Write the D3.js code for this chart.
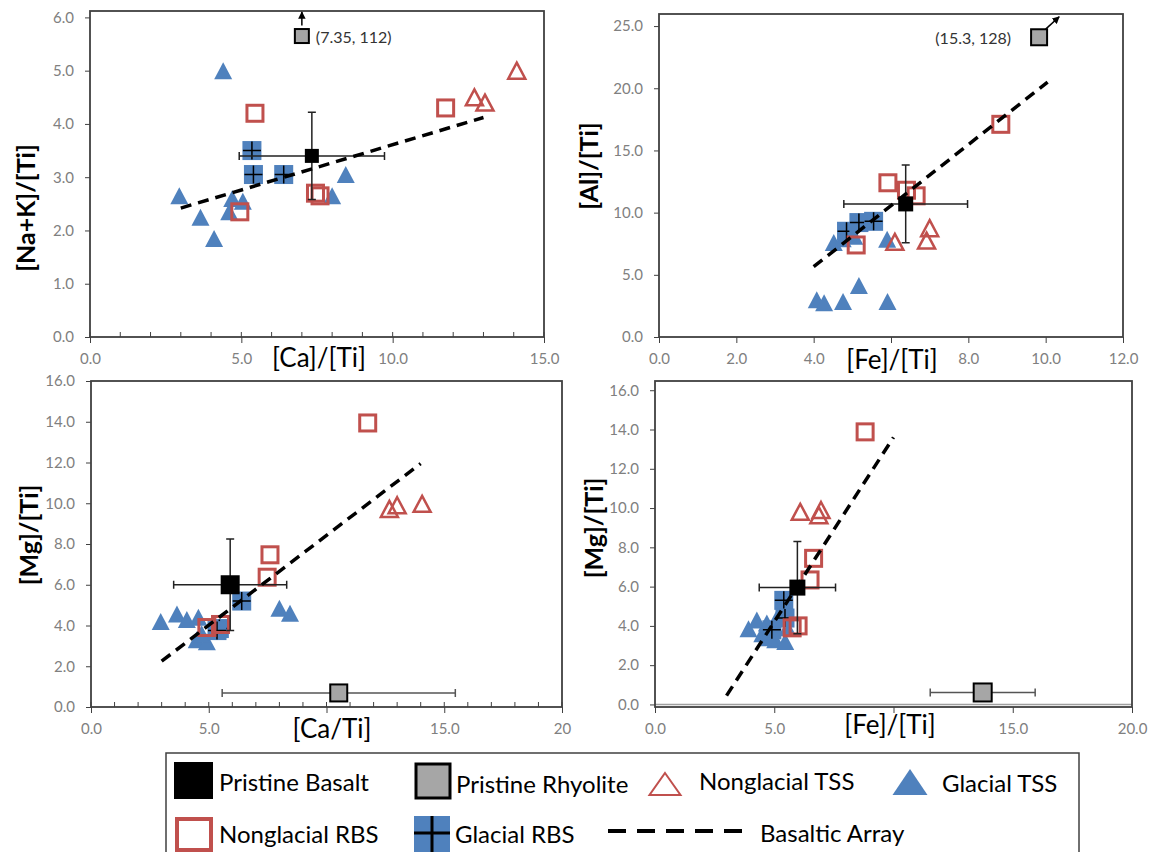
<!DOCTYPE html>
<html>
<head>
<meta charset="utf-8">
<script src="https://cdn.jsdelivr.net/npm/d3@7"></script>
<style>
  body { margin: 0; background: #fff; }
  svg { display: block; }
  text { font-family: Lato, "Open Sans", "DejaVu Sans", sans-serif; }
</style>
</head>
<body>
<svg id="chart" width="1150" height="852"></svg>
<script>
// --- data: panel A, [Ca]/[Ti] vs [Na+K]/[Ti] ---
const aXTicks = [0, 5, 10, 15];
const aXLabels = ["0.0", "5.0", "10.0", "15.0"];
const aYTicks = [0, 1, 2, 3, 4, 5, 6];
const aYLabels = ["0.0", "1.0", "2.0", "3.0", "4.0", "5.0", "6.0"];
const aGlacialTSS = [[4.4, 5.0], [2.95, 2.65], [3.65, 2.25], [4.1, 1.85], [4.6, 2.35], [4.7, 2.6], [5.05, 2.55], [8.0, 2.65], [8.45, 3.05]];
const aGlacialRBS = [[5.35, 3.5], [5.4, 3.05], [6.4, 3.05]];
const aNonglacialRBS = [[5.45, 4.2], [11.75, 4.3], [7.45, 2.7], [7.6, 2.65], [4.95, 2.35]];
const aNonglacialTSS = [[14.1, 5.0], [12.7, 4.5], [13.05, 4.4]];
const aBasalt = [7.33, 3.4];
const aBasaltErr = [2.4, 0.82];
const aRhyolite = [7.0, 5.65];
const aRhyoliteErr = null;
const aRhyoliteNote = "(7.35, 112)";
const aArrow = [[7.0, 5.85], [7.0, 6.1]];
const aArray = [[3.0, 2.42], [13.0, 4.12]];

// --- data: panel B, [Fe]/[Ti] vs [Al]/[Ti] ---
const bXTicks = [0, 2, 4, 6, 8, 10, 12];
const bXLabels = ["0.0", "2.0", "4.0", "", "8.0", "10.0", "12.0"]; // 6.0 sits under the axis title
const bYTicks = [0, 5, 10, 15, 20, 25];
const bYLabels = ["0.0", "5.0", "10.0", "15.0", "20.0", "25.0"];
const bGlacialTSS = [[4.08, 3.0], [4.27, 2.75], [4.76, 2.85], [5.17, 4.15], [5.91, 2.85], [4.52, 7.6], [4.75, 7.9], [5.05, 8.1], [5.9, 7.85]];
const bGlacialRBS = [[4.85, 8.5], [5.17, 9.2], [5.55, 9.3]];
const bNonglacialRBS = [[8.84, 17.1], [5.92, 12.4], [6.4, 11.8], [6.65, 11.35], [5.1, 7.4]];
const bNonglacialTSS = [[6.1, 7.65], [6.92, 7.75], [7.0, 8.75]];
const bBasalt = [6.38, 10.7];
const bBasaltErr = [1.6, 3.13];
const bRhyolite = [9.83, 24.1];
const bRhyoliteErr = null;
const bRhyoliteNote = "(15.3, 128)";
const bArrow = [[10.0, 24.75], [10.35, 25.75]];
const bArray = [[4.0, 5.65], [10.05, 20.5]];

// --- data: panel C, [Ca/Ti] vs [Mg]/[Ti] ---
const cXTicks = [0, 5, 10, 15, 20];
const cXLabels = ["0.0", "5.0", "", "15.0", "20"]; // 10.0 sits under the axis title
const cYTicks = [0, 2, 4, 6, 8, 10, 12, 14, 16];
const cYLabels = ["0.0", "2.0", "4.0", "6.0", "8.0", "10.0", "12.0", "14.0", "16.0"];
const cGlacialTSS = [[2.96, 4.2], [3.65, 4.57], [4.07, 4.3], [4.56, 4.4], [4.49, 3.3], [4.92, 3.2], [4.7, 3.6], [8.0, 4.85], [8.45, 4.6]];
const cGlacialRBS = [[6.4, 5.2], [5.45, 3.85], [5.35, 3.75]];
const cNonglacialRBS = [[11.75, 13.94], [7.6, 7.47], [7.48, 6.37], [4.92, 3.9], [5.5, 4.05]];
const cNonglacialTSS = [[12.67, 9.72], [13.0, 9.9], [14.06, 9.97]];
const cBasalt = [5.91, 6.0];
const cBasaltErr = [2.4, 2.24];
const cRhyolite = [10.52, 0.69];
const cRhyoliteErr = [4.95, 0];
const cRhyoliteNote = null;
const cArrow = null;
const cArray = [[3.0, 2.25], [14.0, 11.95]];

// --- data: panel D, [Fe]/[Ti] vs [Mg]/[Ti] ---
const dXTicks = [0, 5, 10, 15, 20];
const dXLabels = ["0.0", "5.0", "", "15.0", "20.0"]; // 10.0 sits under the axis title
const dYTicks = [0, 2, 4, 6, 8, 10, 12, 14, 16];
const dYLabels = ["0.0", "2.0", "4.0", "6.0", "8.0", "10.0", "12.0", "14.0", "16.0"];
const dGlacialTSS = [[3.92, 3.85], [4.27, 4.3], [4.69, 4.15], [5.04, 3.3], [5.46, 3.2], [4.5, 3.6], [5.2, 4.6], [5.55, 3.9], [4.8, 3.4]];
const dGlacialRBS = [[4.9, 3.8], [5.4, 5.3], [5.45, 4.4]];
const dNonglacialRBS = [[8.81, 13.88], [6.65, 7.44], [6.5, 6.34], [6.0, 4.0], [5.75, 3.9]];
const dNonglacialTSS = [[6.09, 9.81], [6.96, 9.9], [6.87, 9.64]];
const dBasalt = [5.97, 5.95];
const dBasaltErr = [1.6, 2.35];
const dRhyolite = [13.74, 0.61];
const dRhyoliteErr = [2.2, 0];
const dRhyoliteNote = null;
const dArrow = null;
const dArray = [[3.0, 0.45], [10.0, 13.6]];

// legend entries
const legendRow1 = ["Pristine Basalt", "Pristine Rhyolite", "Nonglacial TSS", "Glacial TSS"];
const legendRow2 = ["Nonglacial RBS", "Glacial RBS", "Basaltic Array"];

const BLUE = "#4F81BD";
const RED = "#C0504D";
const GREY = "#A6A6A6";
const FRAME = "#404040";
const TICK_TEXT = "#808080";

const panels = [
  { left: 90, right: 544, top: 11, bottom: 337, xDomain: [0, 15], yDomain: [0, 6.12],
    xTicks: aXTicks, xLabels: aXLabels, yTicks: aYTicks, yLabels: aYLabels, minor: true,
    xTitle: "[Ca]/[Ti]", yTitle: "[Na+K]/[Ti]", xTitleAt: [319, 357], yTitleAt: [25, 208],
    glacialTSS: aGlacialTSS, glacialRBS: aGlacialRBS, nonglacialRBS: aNonglacialRBS, nonglacialTSS: aNonglacialTSS,
    basalt: aBasalt, basaltErr: aBasaltErr, basaltSize: 14,
    rhyolite: aRhyolite, rhyoliteErr: aRhyoliteErr, rhyoliteSize: 14, note: aRhyoliteNote, noteAnchor: "start", noteDx: 14,
    arrow: aArrow, array: aArray },
  { left: 659, right: 1123, top: 14, bottom: 337, xDomain: [0, 12], yDomain: [0, 25.97],
    xTicks: bXTicks, xLabels: bXLabels, yTicks: bYTicks, yLabels: bYLabels, minor: false,
    xTitle: "[Fe]/[Ti]", yTitle: "[Al]/[Ti]", xTitleAt: [892, 359], yTitleAt: [588, 166],
    glacialTSS: bGlacialTSS, glacialRBS: bGlacialRBS, nonglacialRBS: bNonglacialRBS, nonglacialTSS: bNonglacialTSS,
    basalt: bBasalt, basaltErr: bBasaltErr, basaltSize: 15,
    rhyolite: bRhyolite, rhyoliteErr: bRhyoliteErr, rhyoliteSize: 16, note: bRhyoliteNote, noteAnchor: "end", noteDx: -28,
    arrow: bArrow, array: bArray },
  { left: 91, right: 562, top: 381, bottom: 707, xDomain: [0, 20], yDomain: [0, 16],
    xTicks: cXTicks, xLabels: cXLabels, yTicks: cYTicks, yLabels: cYLabels, minor: true,
    xTitle: "[Ca/Ti]", yTitle: "[Mg]/[Ti]", xTitleAt: [332, 728], yTitleAt: [28, 535],
    glacialTSS: cGlacialTSS, glacialRBS: cGlacialRBS, nonglacialRBS: cNonglacialRBS, nonglacialTSS: cNonglacialTSS,
    basalt: cBasalt, basaltErr: cBasaltErr, basaltSize: 19,
    rhyolite: cRhyolite, rhyoliteErr: cRhyoliteErr, rhyoliteSize: 17, note: cRhyoliteNote,
    arrow: cArrow, array: cArray },
  { left: 655, right: 1132, top: 381, bottom: 707, xDomain: [0, 20], yDomain: [-0.13, 16.47],
    xTicks: dXTicks, xLabels: dXLabels, yTicks: dYTicks, yLabels: dYLabels, minor: false, zeroLine: true,
    xTitle: "[Fe]/[Ti]", yTitle: "[Mg]/[Ti]", xTitleAt: [890, 724], yTitleAt: [593, 528],
    glacialTSS: dGlacialTSS, glacialRBS: dGlacialRBS, nonglacialRBS: dNonglacialRBS, nonglacialTSS: dNonglacialTSS,
    basalt: dBasalt, basaltErr: dBasaltErr, basaltSize: 16,
    rhyolite: dRhyolite, rhyoliteErr: dRhyoliteErr, rhyoliteSize: 18, note: dRhyoliteNote,
    arrow: dArrow, array: dArray }
];

const svg = d3.select("#chart");
svg.append("rect").attr("width", 1150).attr("height", 852).attr("fill", "#fff");

const defs = svg.append("defs");
defs.append("marker")
  .attr("id", "arrowhead")
  .attr("viewBox", "0 0 10 10")
  .attr("refX", 9).attr("refY", 5)
  .attr("markerWidth", 5).attr("markerHeight", 5)
  .attr("orient", "auto")
  .append("path").attr("d", "M0,0 L10,5 L0,10 Z").attr("fill", "#000");

// triangle centred on its bounding box, like the spreadsheet markers
function trianglePath(cx, cy, w, h) {
  return `M${cx},${cy - h / 2} L${cx + w / 2},${cy + h / 2} L${cx - w / 2},${cy + h / 2} Z`;
}

function drawPanel(p) {
  const g = svg.append("g");
  const x = d3.scaleLinear().domain(p.xDomain).range([p.left, p.right]);
  const y = d3.scaleLinear().domain(p.yDomain).range([p.bottom, p.top]);

  if (p.zeroLine) {
    g.append("line")
      .attr("x1", p.left).attr("x2", p.right)
      .attr("y1", y(0)).attr("y2", y(0))
      .attr("stroke", "#A0A0A0").attr("stroke-width", 1.5);
  }

  // x axis
  const xAxis = g.append("g")
    .attr("transform", `translate(0,${p.bottom})`)
    .call(d3.axisBottom(x).tickValues(p.xTicks).tickFormat((d, i) => p.xLabels[i])
      .tickSizeInner(6).tickSizeOuter(0).tickPadding(10));
  xAxis.select(".domain").remove();
  xAxis.selectAll(".tick line").attr("stroke", FRAME).attr("stroke-width", 1);
  xAxis.selectAll(".tick text").attr("fill", TICK_TEXT).style("font-size", "15px");

  if (p.minor) {
    g.selectAll(".minor")
      .data(d3.range(p.xDomain[0], p.xDomain[1] + 0.001, 1))
      .enter().append("line")
      .attr("x1", d => x(d)).attr("x2", d => x(d))
      .attr("y1", p.bottom).attr("y2", p.bottom - 5)
      .attr("stroke", FRAME).attr("stroke-width", 1);
  }

  // y axis
  const yAxis = g.append("g")
    .attr("transform", `translate(${p.left},0)`)
    .call(d3.axisLeft(y).tickValues(p.yTicks).tickFormat((d, i) => p.yLabels[i])
      .tickSizeInner(5).tickSizeOuter(0).tickPadding(11));
  yAxis.select(".domain").remove();
  yAxis.selectAll(".tick line").attr("stroke", FRAME).attr("stroke-width", 1);
  yAxis.selectAll(".tick text").attr("fill", TICK_TEXT).style("font-size", "15px");

  // plot frame
  g.append("rect")
    .attr("x", p.left).attr("y", p.top)
    .attr("width", p.right - p.left).attr("height", p.bottom - p.top)
    .attr("fill", "none").attr("stroke", FRAME).attr("stroke-width", 1.8);

  // axis titles
  g.append("text")
    .attr("x", p.xTitleAt[0]).attr("y", p.xTitleAt[1])
    .attr("text-anchor", "middle").attr("dominant-baseline", "central")
    .style("font-size", "26px").attr("fill", "#000")
    .text(p.xTitle);

  g.append("text")
    .attr("transform", `translate(${p.yTitleAt[0]},${p.yTitleAt[1]}) rotate(-90)`)
    .attr("text-anchor", "middle").attr("dominant-baseline", "central")
    .style("font-size", "25px").style("font-weight", 700).attr("fill", "#000")
    .text(p.yTitle);

  // glacial TSS: blue filled triangles
  g.selectAll(".gtss").data(p.glacialTSS).enter().append("path")
    .attr("d", d => trianglePath(x(d[0]), y(d[1]), 18, 17))
    .attr("fill", BLUE);

  // glacial RBS: blue squares with a black plus
  const grbs = g.selectAll(".grbs").data(p.glacialRBS).enter().append("g");
  grbs.append("rect")
    .attr("x", d => x(d[0]) - 9.5).attr("y", d => y(d[1]) - 9.5)
    .attr("width", 19).attr("height", 19).attr("fill", BLUE);
  grbs.append("path")
    .attr("d", d => `M${x(d[0]) - 9},${y(d[1])} H${x(d[0]) + 9} M${x(d[0])},${y(d[1]) - 9} V${y(d[1]) + 9}`)
    .attr("stroke", "#000").attr("stroke-width", 1.5).attr("fill", "none");

  // nonglacial RBS: open red squares
  g.selectAll(".nrbs").data(p.nonglacialRBS).enter().append("rect")
    .attr("x", d => x(d[0]) - 8).attr("y", d => y(d[1]) - 8)
    .attr("width", 16).attr("height", 16)
    .attr("fill", "none").attr("stroke", RED).attr("stroke-width", 3);

  // nonglacial TSS: open red triangles
  g.selectAll(".ntss").data(p.nonglacialTSS).enter().append("path")
    .attr("d", d => trianglePath(x(d[0]), y(d[1]), 17, 16))
    .attr("fill", "none").attr("stroke", RED).attr("stroke-width", 2.5).attr("stroke-linejoin", "miter");

  // pristine rhyolite
  const rx = x(p.rhyolite[0]), ry = y(p.rhyolite[1]);
  if (p.rhyoliteErr) {
    const e = p.rhyoliteErr;
    g.append("path")
      .attr("d", `M${x(p.rhyolite[0] - e[0])},${ry} H${x(p.rhyolite[0] + e[0])}` +
        ` M${x(p.rhyolite[0] - e[0])},${ry - 4} V${ry + 4} M${x(p.rhyolite[0] + e[0])},${ry - 4} V${ry + 4}`)
      .attr("stroke", "#555").attr("stroke-width", 1.5).attr("fill", "none");
  }
  g.append("rect")
    .attr("x", rx - p.rhyoliteSize / 2).attr("y", ry - p.rhyoliteSize / 2)
    .attr("width", p.rhyoliteSize).attr("height", p.rhyoliteSize)
    .attr("fill", GREY).attr("stroke", "#000").attr("stroke-width", 2);
  if (p.note) {
    g.append("text")
      .attr("x", rx + p.noteDx).attr("y", ry)
      .attr("text-anchor", p.noteAnchor).attr("dominant-baseline", "central")
      .style("font-size", "16px").attr("fill", "#333")
      .text(p.note);
  }
  if (p.arrow) {
    g.append("line")
      .attr("x1", x(p.arrow[0][0])).attr("y1", y(p.arrow[0][1]))
      .attr("x2", x(p.arrow[1][0])).attr("y2", y(p.arrow[1][1]))
      .attr("stroke", "#000").attr("stroke-width", 1.5)
      .attr("marker-end", "url(#arrowhead)");
  }

  // pristine basalt with error bars
  const bxv = p.basalt[0], byv = p.basalt[1], be = p.basaltErr;
  const bx = x(bxv), by = y(byv);
  g.append("path")
    .attr("d", `M${x(bxv - be[0])},${by} H${x(bxv + be[0])}` +
      ` M${x(bxv - be[0])},${by - 4} V${by + 4} M${x(bxv + be[0])},${by - 4} V${by + 4}` +
      ` M${bx},${y(byv + be[1])} V${y(byv - be[1])}` +
      ` M${bx - 4},${y(byv + be[1])} H${bx + 4} M${bx - 4},${y(byv - be[1])} H${bx + 4}`)
    .attr("stroke", "#222").attr("stroke-width", 1.5).attr("fill", "none");
  g.append("rect")
    .attr("x", bx - p.basaltSize / 2).attr("y", by - p.basaltSize / 2)
    .attr("width", p.basaltSize).attr("height", p.basaltSize)
    .attr("fill", "#000");

  // basaltic array
  g.append("line")
    .attr("x1", x(p.array[0][0])).attr("y1", y(p.array[0][1]))
    .attr("x2", x(p.array[1][0])).attr("y2", y(p.array[1][1]))
    .attr("stroke", "#000").attr("stroke-width", 3.5)
    .attr("stroke-dasharray", "11,7");
}

panels.forEach(drawPanel);

// legend
const lg = svg.append("g");
lg.append("rect")
  .attr("x", 166).attr("y", 753).attr("width", 913).attr("height", 120)
  .attr("fill", "#fff").attr("stroke", FRAME).attr("stroke-width", 1.5);

const legendText = (txt, lx, ly) => lg.append("text")
  .attr("x", lx).attr("y", ly).attr("dominant-baseline", "central")
  .style("font-size", "24px").attr("fill", "#000").text(txt);

// row 1
lg.append("rect").attr("x", 174).attr("y", 762).attr("width", 39).attr("height", 37).attr("fill", "#000");
legendText(legendRow1[0], 219, 781);
lg.append("rect").attr("x", 416).attr("y", 764).attr("width", 34).attr("height", 34)
  .attr("fill", GREY).attr("stroke", "#000").attr("stroke-width", 3);
legendText(legendRow1[1], 456, 783);
lg.append("path").attr("d", trianglePath(665, 784, 31, 22))
  .attr("fill", "none").attr("stroke", RED).attr("stroke-width", 2);
legendText(legendRow1[2], 699, 780);
lg.append("path").attr("d", trianglePath(910, 782, 35, 26)).attr("fill", BLUE);
legendText(legendRow1[3], 942, 782);

// row 2
lg.append("rect").attr("x", 177).attr("y", 819).attr("width", 34).attr("height", 31)
  .attr("fill", "none").attr("stroke", RED).attr("stroke-width", 4);
legendText(legendRow2[0], 219, 833);
lg.append("rect").attr("x", 414).attr("y", 816).attr("width", 36).attr("height", 36).attr("fill", BLUE);
lg.append("path").attr("d", "M414,833 H450 M432,816 V852")
  .attr("stroke", "#000").attr("stroke-width", 3).attr("fill", "none");
legendText(legendRow2[1], 455, 833);
lg.append("line").attr("x1", 608).attr("x2", 743).attr("y1", 831).attr("y2", 831)
  .attr("stroke", "#000").attr("stroke-width", 4).attr("stroke-dasharray", "18,11");
legendText(legendRow2[2], 760, 832);
</script>
</body>
</html>
